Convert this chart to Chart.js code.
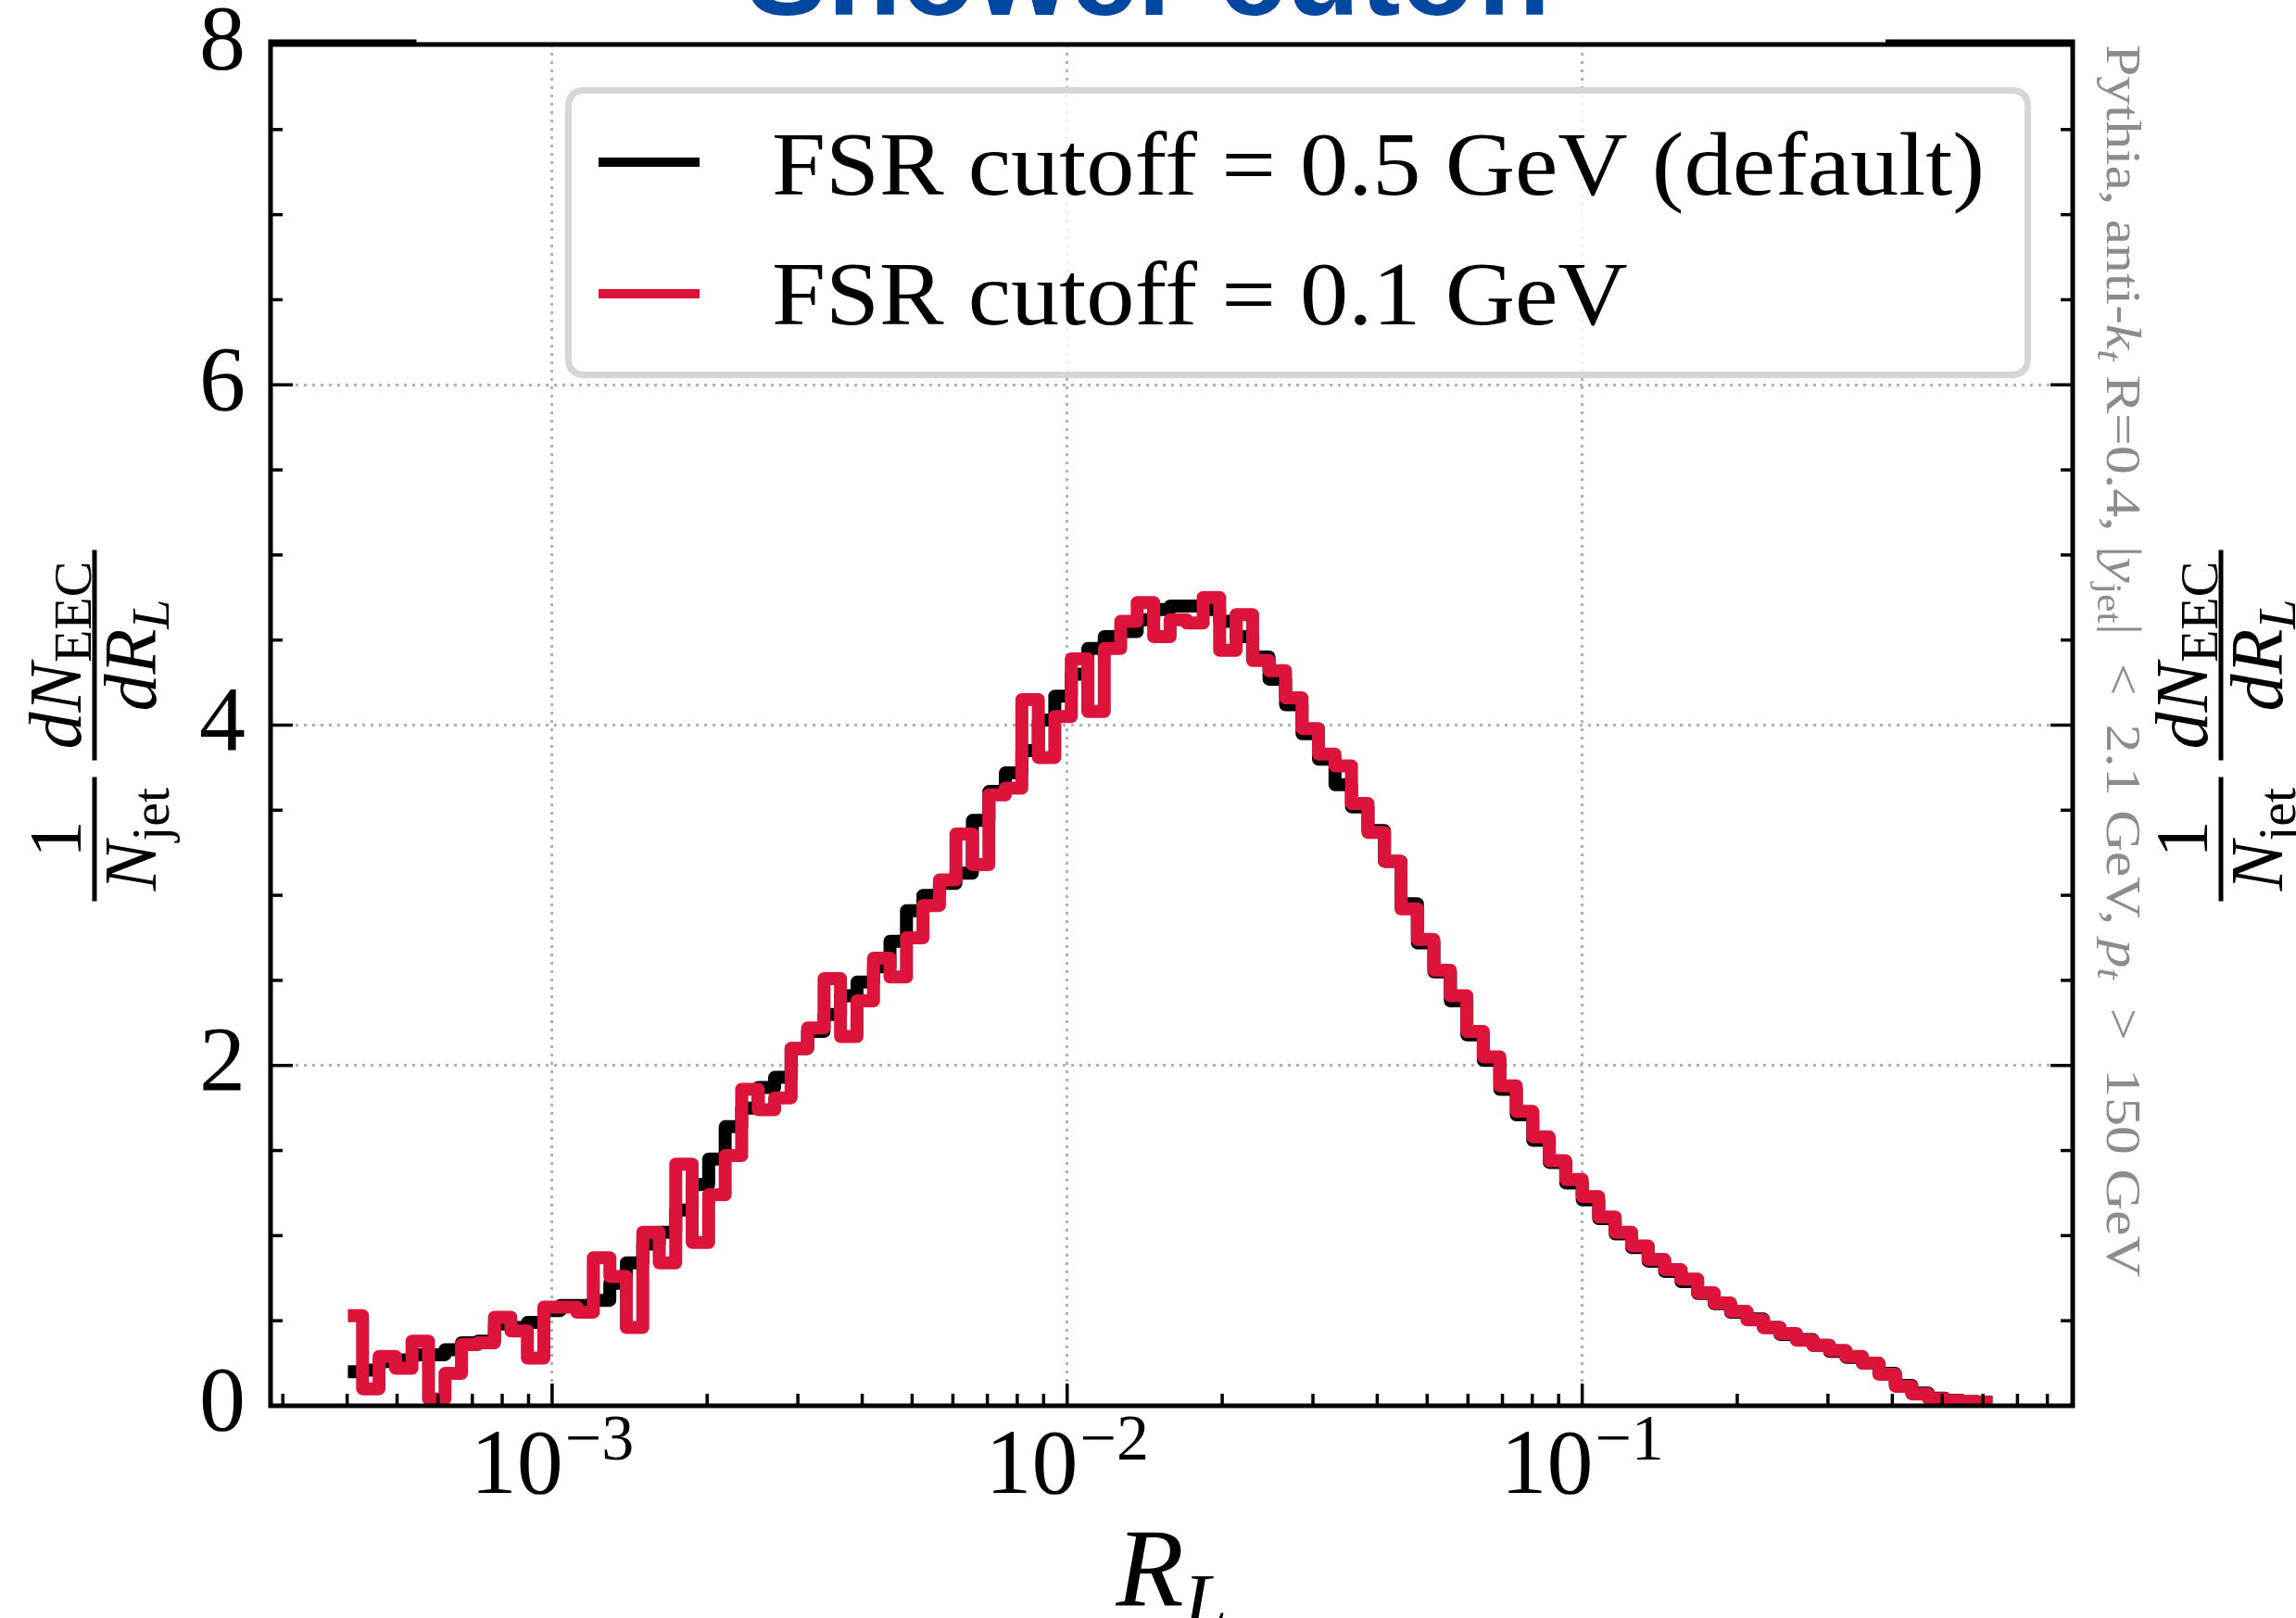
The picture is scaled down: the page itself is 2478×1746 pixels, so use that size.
<!DOCTYPE html>
<html lang="en">
<head>
<meta charset="utf-8">
<title>EEC - shower cutoff</title>
<script src="https://cdn.jsdelivr.net/npm/chart.js@4.4.1/dist/chart.umd.min.js"></script>
<style>
  html, body { margin: 0; padding: 0; background: #ffffff; }
  canvas { display: block; }
</style>
</head>
<body>
<canvas id="eecChart" width="2478" height="1746"></canvas>
<script>
// ---- binning: 100 log bins, edges 10^-3.4 ... 10^-0.2
const binLogMin = -3.4;
const binLogMax = -0.2;
const nBins = 100;

// 1/N_jet dN_EEC/dR_L per bin, FSR cutoff = 0.5 GeV (default)
const eecDefault = [
  0.20, 0.21, 0.26, 0.27, 0.30, 0.30, 0.33, 0.37, 0.38, 0.48,
  0.46, 0.49, 0.56, 0.59, 0.59, 0.62, 0.72, 0.84, 0.95, 1.02,
  1.15, 1.30, 1.45, 1.64, 1.75, 1.87, 1.93, 2.10, 2.20, 2.30,
  2.41, 2.49, 2.58, 2.73, 2.91, 3.00, 3.07, 3.13, 3.44, 3.61,
  3.72, 3.85, 4.03, 4.17, 4.30, 4.45, 4.52, 4.55, 4.62, 4.68,
  4.70, 4.70, 4.68, 4.61, 4.52, 4.40, 4.27, 4.12, 3.95, 3.80,
  3.65, 3.52, 3.38, 3.20, 2.95, 2.72, 2.55, 2.38, 2.18, 2.03,
  1.86, 1.71, 1.56, 1.43, 1.31, 1.21, 1.10, 1.01, 0.93, 0.85,
  0.79, 0.73, 0.66, 0.60, 0.55, 0.51, 0.46, 0.42, 0.39, 0.355,
  0.32, 0.285, 0.25, 0.19, 0.12, 0.075, 0.045, 0.032, 0.024, 0.02
];

// same, FSR cutoff = 0.1 GeV
const eecLowCutoff = [
  0.53, 0.10, 0.29, 0.22, 0.38, 0.04, 0.19, 0.36, 0.37, 0.52,
  0.44, 0.28, 0.58, 0.58, 0.55, 0.87, 0.76, 0.46, 1.02, 0.84,
  1.42, 0.96, 1.24, 1.47, 1.86, 1.74, 1.81, 2.10, 2.22, 2.51,
  2.17, 2.38, 2.63, 2.52, 2.75, 2.94, 3.09, 3.36, 3.18, 3.59,
  3.63, 4.15, 3.81, 4.05, 4.39, 4.08, 4.45, 4.61, 4.72, 4.52,
  4.62, 4.60, 4.75, 4.44, 4.65, 4.38, 4.32, 4.16, 3.98, 3.83,
  3.76, 3.54, 3.37, 3.20, 2.92, 2.74, 2.56, 2.41, 2.20, 2.05,
  1.88, 1.73, 1.58, 1.44, 1.33, 1.23, 1.11, 1.02, 0.94, 0.86,
  0.80, 0.745, 0.665, 0.605, 0.555, 0.505, 0.46, 0.425, 0.385, 0.355,
  0.325, 0.29, 0.25, 0.185, 0.115, 0.07, 0.042, 0.031, 0.024, 0.02
];

const seriesLabels = ['FSR cutoff = 0.5 GeV (default)', 'FSR cutoff = 0.1 GeV'];
const seriesColors = ['#000000', '#dc143c'];

const xMin = 2.84e-4;
const xMax = 0.896;
const xTickValues = [
  3e-4, 4e-4, 5e-4, 6e-4, 7e-4, 8e-4, 9e-4,
  1e-3, 2e-3, 3e-3, 4e-3, 5e-3, 6e-3, 7e-3, 8e-3, 9e-3,
  1e-2, 2e-2, 3e-2, 4e-2, 5e-2, 6e-2, 7e-2, 8e-2, 9e-2,
  1e-1, 2e-1, 3e-1, 4e-1, 5e-1, 6e-1, 7e-1, 8e-1
];
const xMajorTicks = [1e-3, 1e-2, 1e-1];
const xMajorExponents = ['\u22123', '\u22122', '\u22121'];

const yTickValues = [0, 0.5, 1, 1.5, 2, 2.5, 3, 3.5, 4, 4.5, 5, 5.5, 6, 6.5, 7, 7.5, 8];
const yMajorTicks = [0, 2, 4, 6, 8];
const yGridValues = [2, 4, 6];

const titleText = 'Shower cutoff';
const sideNote = [
  { t: 'Pythia, anti-' }, { t: 'k', it: true }, { t: 't', it: true, sub: true },
  { t: ' R=0.4, |' }, { t: 'y', it: true }, { t: 'jet', sub: true },
  { t: '|  <  2.1 GeV, ' }, { t: 'p', it: true }, { t: 't', it: true, sub: true },
  { t: '  >  150 GeV' }
];

// ---- helpers
const SERIF = '"Liberation Serif", "Times New Roman", serif';
const GRID = '#b0b0b0';

const isDecade = v => Math.abs(Math.log10(v) - Math.round(Math.log10(v))) < 1e-9;
const isIn = (list, v) => list.some(t => Math.abs(t - v) < 1e-9);

const binCenters = [];
for (let i = 0; i < nBins; i++) {
  const lo = binLogMin + (binLogMax - binLogMin) * i / nBins;
  const hi = binLogMin + (binLogMax - binLogMin) * (i + 1) / nBins;
  binCenters.push(Math.pow(10, 0.5 * (lo + hi)));
}
const toPoints = vals => vals.map((y, i) => ({ x: binCenters[i], y: y }));

function partFont(p, base, sub) {
  return (p.it ? 'italic ' : '') + (p.sub ? sub : base) + 'px ' + SERIF;
}
function runWidth(c, parts, base, sub) {
  let w = 0;
  parts.forEach(p => { c.font = partFont(p, base, sub); w += c.measureText(p.t).width; });
  return w;
}
// draws a run of text pieces, subscripts dropped by subDy
function drawRun(c, parts, x0, baseY, base, sub, subDy) {
  let xx = x0;
  parts.forEach(p => {
    c.font = partFont(p, base, sub);
    c.fillText(p.t, xx, baseY + (p.sub ? subDy : 0));
    xx += c.measureText(p.t).width;
  });
}

// y label: 1/N_jet  dN_EEC/dR_L, rotated, fraction bars centred on barX
function drawYLabel(c, barX, cy) {
  const base = 80, sub = 58;
  const fracs = [
    { u0: -190, u1: -56, num: [{ t: '1' }], den: [{ t: 'N', it: true }, { t: 'jet', sub: true }] },
    { u0: -38, u1: 189,
      num: [{ t: 'd', it: true }, { t: 'N', it: true }, { t: 'EEC', sub: true }],
      den: [{ t: 'd', it: true }, { t: 'R', it: true }, { t: 'L', it: true, sub: true }] }
  ];
  c.save();
  c.translate(barX, cy);
  c.rotate(-Math.PI / 2);
  c.fillStyle = '#000';
  c.textBaseline = 'alphabetic';
  c.textAlign = 'left';
  fracs.forEach(f => {
    c.fillRect(f.u0, -2.5, f.u1 - f.u0, 5);
    const mid = 0.5 * (f.u0 + f.u1);
    drawRun(c, f.num, mid - runWidth(c, f.num, base, sub) / 2, -15, base, sub, 11);
    drawRun(c, f.den, mid - runWidth(c, f.den, base, sub) / 2, 66, base, sub, 14);
  });
  c.restore();
}

function roundRectPath(c, x, y, w, h, r) {
  c.beginPath();
  c.moveTo(x + r, y);
  c.lineTo(x + w - r, y);
  c.quadraticCurveTo(x + w, y, x + w, y + r);
  c.lineTo(x + w, y + h - r);
  c.quadraticCurveTo(x + w, y + h, x + w - r, y + h);
  c.lineTo(x + r, y + h);
  c.quadraticCurveTo(x, y + h, x, y + h - r);
  c.lineTo(x, y + r);
  c.quadraticCurveTo(x, y, x + r, y);
  c.closePath();
}

const decorations = {
  id: 'decorations',
  beforeDraw(chart) {
    const c = chart.ctx;
    c.save();
    c.fillStyle = '#ffffff';
    c.fillRect(0, 0, chart.width, chart.height);
    c.restore();
  },
  afterDatasetsDraw(chart) {
    const c = chart.ctx;
    const a = chart.chartArea;
    const xs = chart.scales.x, ys = chart.scales.y;
    c.save();

    // inward ticks
    c.strokeStyle = '#000';
    c.lineWidth = 3.5;
    xTickValues.forEach(v => {
      const px = xs.getPixelForValue(v);
      const len = isDecade(v) ? 24 : 13;
      c.beginPath(); c.moveTo(px, a.bottom); c.lineTo(px, a.bottom - len); c.stroke();
    });
    yTickValues.forEach(v => {
      const py = ys.getPixelForValue(v);
      const len = isIn(yMajorTicks, v) ? 24 : 13;
      c.beginPath(); c.moveTo(a.left, py); c.lineTo(a.left + len, py); c.stroke();
      c.beginPath(); c.moveTo(a.right, py); c.lineTo(a.right - len, py); c.stroke();
    });

    // spines
    c.lineWidth = 5;
    c.strokeRect(a.left, a.top, a.right - a.left, a.bottom - a.top);
    c.fillStyle = '#000';
    c.fillRect(a.left - 2.5, a.top - 5.5, 160, 4);
    c.fillRect(a.right - 202, a.top - 5.5, 204.5, 4);

    // x tick labels 10^n
    c.textBaseline = 'alphabetic';
    c.textAlign = 'left';
    xMajorTicks.forEach((v, i) => {
      const px = xs.getPixelForValue(v);
      c.font = '100px ' + SERIF;
      const wb = c.measureText('10').width;
      c.font = '70px ' + SERIF;
      const we = c.measureText(xMajorExponents[i]).width;
      const left = px - (wb + we + 2) / 2;
      c.font = '100px ' + SERIF;
      c.fillText('10', left, a.bottom + 94);
      c.font = '70px ' + SERIF;
      c.fillText(xMajorExponents[i], left + wb + 2, a.bottom + 58);
    });

    // x axis label R_L
    const rl = [{ t: 'R', it: true }, { t: 'L', it: true, sub: true }];
    const wrl = runWidth(c, rl, 120, 84);
    drawRun(c, rl, (a.left + a.right) / 2 - wrl / 2, a.bottom + 216, 120, 84, 24);

    // y labels, left and right
    const cy = (a.top + a.bottom) / 2;
    drawYLabel(c, 102, cy);
    drawYLabel(c, 2397, cy);

    // side note, rotated clockwise
    c.save();
    c.fillStyle = '#8c8c8c';
    c.translate(2274, a.top);
    c.rotate(Math.PI / 2);
    const wNote = runWidth(c, sideNote, 52, 37);
    c.scale(1330 / wNote, 1);
    drawRun(c, sideNote, 0, 0, 52, 37, 10);
    c.restore();

    // legend
    roundRectPath(c, 613.5, 97.5, 1575, 307, 18);
    c.fillStyle = 'rgba(255,255,255,0.8)';
    c.fill();
    c.lineWidth = 7;
    c.strokeStyle = '#d6d6d6';
    c.stroke();
    const rowsY = [175, 317];
    const baseY = [210, 350];
    c.font = '97px ' + SERIF;
    const stretch = 1309 / c.measureText(seriesLabels[0]).width;
    chart.data.datasets.forEach((ds, i) => {
      c.strokeStyle = ds.borderColor;
      c.lineWidth = 10;
      c.beginPath(); c.moveTo(646, rowsY[i]); c.lineTo(755, rowsY[i]); c.stroke();
      c.save();
      c.fillStyle = '#000';
      c.font = '97px ' + SERIF;
      c.translate(833, baseY[i]);
      c.scale(stretch, 1);
      c.fillText(ds.label, 0, 0);
      c.restore();
    });

    // title, cut by the top edge
    c.fillStyle = '#0047a0';
    c.font = 'bold 131px "Liberation Sans", Arial, sans-serif';
    c.textAlign = 'center';
    c.fillText(titleText, 1242, 16);

    c.restore();
  }
};

const ctx = document.getElementById('eecChart').getContext('2d');
const eecChart = new Chart(ctx, {
  type: 'line',
  data: {
    datasets: [
      {
        label: seriesLabels[0],
        data: toPoints(eecDefault),
        borderColor: seriesColors[0],
        borderWidth: 14,
        stepped: 'middle',
        pointRadius: 0,
        fill: false,
        borderJoinStyle: 'round',
        borderCapStyle: 'square',
        order: 1
      },
      {
        label: seriesLabels[1],
        data: toPoints(eecLowCutoff),
        borderColor: seriesColors[1],
        borderWidth: 14,
        stepped: 'middle',
        pointRadius: 0,
        fill: false,
        borderJoinStyle: 'round',
        borderCapStyle: 'square',
        order: 0
      }
    ]
  },
  options: {
    responsive: false,
    animation: false,
    devicePixelRatio: 1,
    events: [],
    layout: { padding: { top: 48, right: 241, bottom: 0, left: 0 } },
    plugins: {
      legend: { display: false },
      title: { display: false },
      tooltip: { enabled: false }
    },
    scales: {
      x: {
        type: 'logarithmic',
        min: xMin,
        max: xMax,
        bounds: 'data',
        afterBuildTicks: s => { s.ticks = xTickValues.map(v => ({ value: v })); },
        afterFit: s => { s.height = 229; },
        ticks: { display: false },
        grid: {
          drawTicks: false,
          lineWidth: 3,
          color: c => (c.tick && isDecade(c.tick.value)) ? GRID : 'rgba(0,0,0,0)'
        },
        border: { display: false, dash: [3, 6] }
      },
      y: {
        min: 0,
        max: 8,
        afterBuildTicks: s => { s.ticks = yTickValues.map(v => ({ value: v })); },
        afterFit: s => { s.width = 292; },
        ticks: {
          autoSkip: false,
          padding: 27,
          color: '#000',
          font: { family: SERIF, size: 100, lineHeight: 0.4 },
          callback: v => isIn(yMajorTicks, v) ? String(v) : ''
        },
        grid: {
          drawTicks: false,
          lineWidth: 3,
          color: c => (c.tick && isIn(yGridValues, c.tick.value)) ? GRID : 'rgba(0,0,0,0)'
        },
        border: { display: false, dash: [3, 6] }
      }
    }
  },
  plugins: [decorations]
});
</script>
</body>
</html>
